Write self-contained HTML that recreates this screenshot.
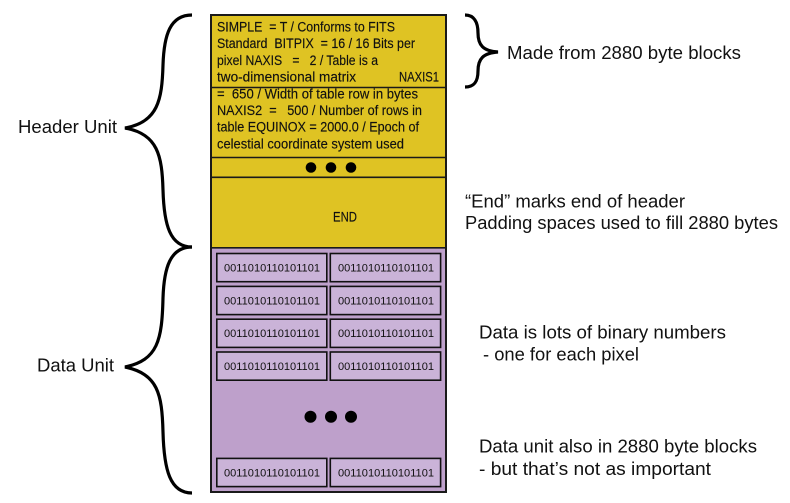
<!DOCTYPE html>
<html>
<head>
<meta charset="utf-8">
<style>
html,body{margin:0;padding:0;background:#fff;}
svg{display:block;}
text{font-family:"Liberation Sans",sans-serif;fill:#111;}
</style>
</head>
<body>
<svg width="790" height="503" viewBox="0 0 790 503" xmlns="http://www.w3.org/2000/svg">
  <!-- Header block -->
  <rect x="211" y="15" width="235" height="233" fill="#DFC323"/>
  <!-- Data block -->
  <rect x="211" y="248" width="235" height="244" fill="#BEA0CB"/>
  <!-- outer border -->
  <rect x="211" y="15" width="235" height="477" fill="none" stroke="#1a1a1a" stroke-width="2"/>
  <!-- separators -->
  <line x1="211" y1="87.5" x2="446" y2="87.5" stroke="#1a1a1a" stroke-width="1.6"/>
  <line x1="211" y1="157.5" x2="446" y2="157.5" stroke="#1a1a1a" stroke-width="1.6"/>
  <line x1="211" y1="177.3" x2="446" y2="177.3" stroke="#1a1a1a" stroke-width="1.6"/>
  <line x1="211" y1="247.8" x2="446" y2="247.8" stroke="#1a1a1a" stroke-width="1.6"/>

  <!-- header text -->
  <g font-size="13.5" stroke="#111" stroke-width="0.15">
    <text x="217" y="31.5" textLength="178" lengthAdjust="spacingAndGlyphs" xml:space="preserve">SIMPLE  = T / Conforms to FITS</text>
    <text x="217" y="48.2" textLength="198" lengthAdjust="spacingAndGlyphs" xml:space="preserve">Standard  BITPIX  = 16 / 16 Bits per</text>
    <text x="217" y="64.9" textLength="161" lengthAdjust="spacingAndGlyphs" xml:space="preserve">pixel NAXIS   =   2 / Table is a</text>
    <text x="217" y="81.6" textLength="139" lengthAdjust="spacingAndGlyphs">two-dimensional matrix</text>
    <text x="399" y="81.6" textLength="40" lengthAdjust="spacingAndGlyphs">NAXIS1</text>
    <text x="217" y="98.3" textLength="201" lengthAdjust="spacingAndGlyphs" xml:space="preserve">=  650 / Width of table row in bytes</text>
    <text x="217" y="115" textLength="205" lengthAdjust="spacingAndGlyphs" xml:space="preserve">NAXIS2  =   500 / Number of rows in</text>
    <text x="217" y="131.7" textLength="202" lengthAdjust="spacingAndGlyphs">table EQUINOX = 2000.0 / Epoch of</text>
    <text x="217" y="148.4" textLength="187" lengthAdjust="spacingAndGlyphs">celestial coordinate system used</text>
    <text x="333" y="221.7" textLength="24" lengthAdjust="spacingAndGlyphs">END</text>
  </g>

  <!-- header dots -->
  <circle cx="311" cy="167.5" r="5.3" fill="#000"/>
  <circle cx="331" cy="167.5" r="5.3" fill="#000"/>
  <circle cx="351" cy="167.5" r="5.3" fill="#000"/>

  <!-- data cells -->
  <g fill="#CAB3D8" stroke="#111" stroke-width="1.6">
    <rect x="216.8" y="253.5" width="110" height="28.2"/>
    <rect x="330.3" y="253.5" width="110.3" height="28.2"/>
    <rect x="216.8" y="286.4" width="110" height="28.2"/>
    <rect x="330.3" y="286.4" width="110.3" height="28.2"/>
    <rect x="216.8" y="319.2" width="110" height="28.2"/>
    <rect x="330.3" y="319.2" width="110.3" height="28.2"/>
    <rect x="216.8" y="352" width="110" height="28.2"/>
    <rect x="330.3" y="352" width="110.3" height="28.2"/>
    <rect x="216.8" y="458.4" width="110" height="28.2"/>
    <rect x="330.3" y="458.4" width="110.3" height="28.2"/>
  </g>
  <g font-size="11">
    <text x="224" y="271.5" textLength="96" lengthAdjust="spacingAndGlyphs">0011010110101101</text>
    <text x="338" y="271.5" textLength="96" lengthAdjust="spacingAndGlyphs">0011010110101101</text>
    <text x="224" y="304.4" textLength="96" lengthAdjust="spacingAndGlyphs">0011010110101101</text>
    <text x="338" y="304.4" textLength="96" lengthAdjust="spacingAndGlyphs">0011010110101101</text>
    <text x="224" y="337.2" textLength="96" lengthAdjust="spacingAndGlyphs">0011010110101101</text>
    <text x="338" y="337.2" textLength="96" lengthAdjust="spacingAndGlyphs">0011010110101101</text>
    <text x="224" y="370" textLength="96" lengthAdjust="spacingAndGlyphs">0011010110101101</text>
    <text x="338" y="370" textLength="96" lengthAdjust="spacingAndGlyphs">0011010110101101</text>
    <text x="224" y="476.4" textLength="96" lengthAdjust="spacingAndGlyphs">0011010110101101</text>
    <text x="338" y="476.4" textLength="96" lengthAdjust="spacingAndGlyphs">0011010110101101</text>
  </g>

  <!-- data dots -->
  <circle cx="310.5" cy="416.7" r="6" fill="#000"/>
  <circle cx="331" cy="416.7" r="6" fill="#000"/>
  <circle cx="351" cy="416.7" r="6" fill="#000"/>

  <!-- braces -->
  <g fill="none" stroke="#000" stroke-width="3.2" stroke-linecap="butt" stroke-linejoin="miter">
    <path d="M192,15 C170,15 164,35 163,65 C162,100 158,122 125,128 C158,134 162,156 163,190 C164,225 170,247 192,247"/>
    <path d="M192,247 C170,247 164,268 163,298 C162,340 158,360 125,367 C158,374 162,394 163,432 C164,470 170,493 192,493"/>
    <path d="M465,15 C474,15 478,22 478,33 C478,45 483,51 498,52 C483,53 478,59 478,71 C478,82 474,87 465,87"/>
  </g>

  <!-- left labels -->
  <g font-size="18.5">
    <text x="18" y="133" textLength="99" lengthAdjust="spacingAndGlyphs">Header Unit</text>
    <text x="37" y="371.7" textLength="77" lengthAdjust="spacingAndGlyphs">Data Unit</text>
  </g>

  <!-- right labels -->
  <g font-size="18.8">
    <text x="507" y="59" textLength="234" lengthAdjust="spacingAndGlyphs">Made from 2880 byte blocks</text>
    <text x="465" y="207.5" textLength="220" lengthAdjust="spacingAndGlyphs">“End” marks end of header</text>
    <text x="465" y="229" textLength="313" lengthAdjust="spacingAndGlyphs">Padding spaces used to fill 2880 bytes</text>
    <text x="479" y="338.5" textLength="247" lengthAdjust="spacingAndGlyphs">Data is lots of binary numbers</text>
    <text x="483" y="360.7" textLength="156" lengthAdjust="spacingAndGlyphs">- one for each pixel</text>
    <text x="479" y="452.5" textLength="278" lengthAdjust="spacingAndGlyphs">Data unit also in 2880 byte blocks</text>
    <text x="479" y="475" textLength="232" lengthAdjust="spacingAndGlyphs">- but that’s not as important</text>
  </g>
</svg>
</body>
</html>
